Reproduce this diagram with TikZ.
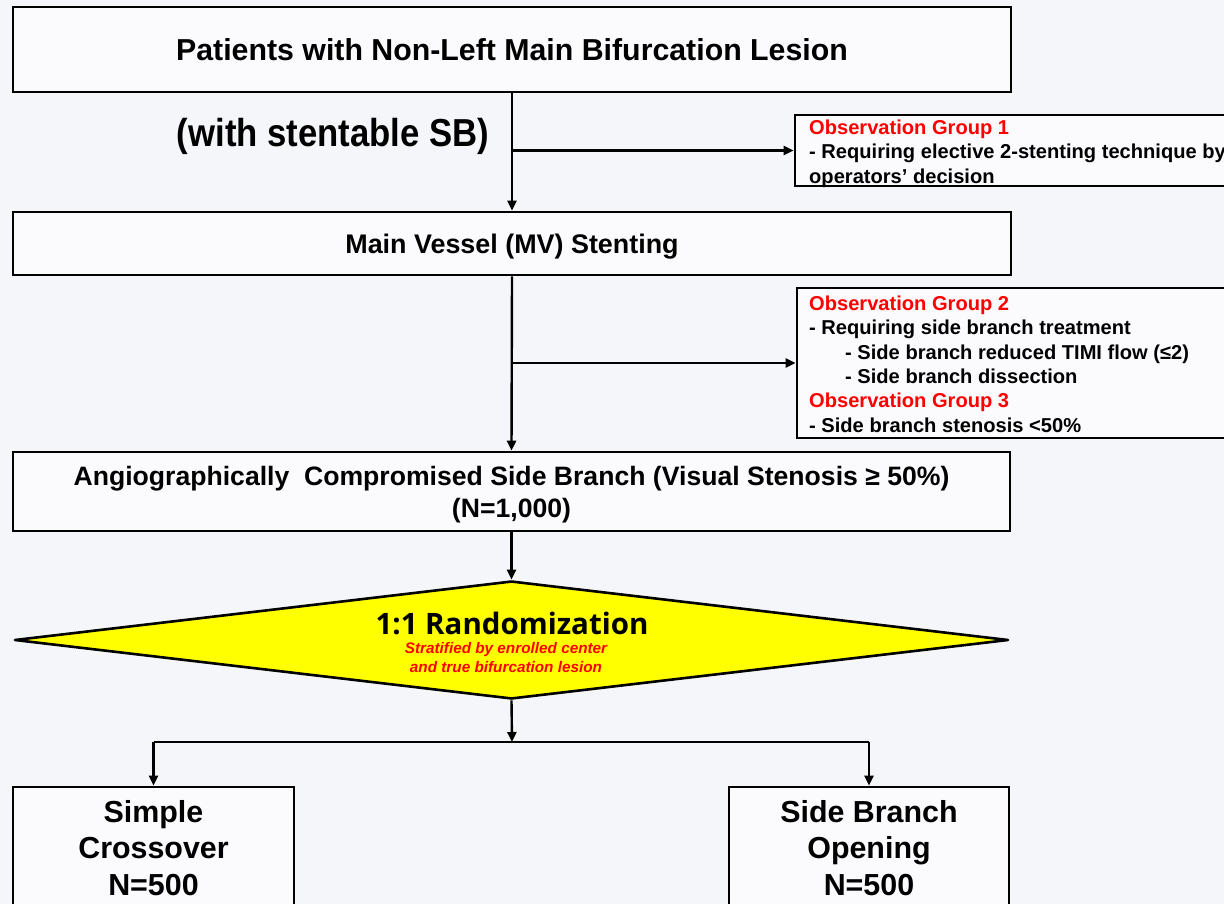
\documentclass[tikz,border=0pt]{standalone}
\usepackage{graphicx}
\usepackage{fontspec}
\setmainfont{Liberation Sans}
\newfontfamily\randfont{Open Sans}
\usetikzlibrary{arrows.meta,shapes.geometric,calc}
\definecolor{bgcol}{HTML}{F5F6F9}
\definecolor{boxfill}{HTML}{FBFBFD}
\definecolor{obsred}{HTML}{FF0000}
\definecolor{diayellow}{HTML}{FFFF00}
\begin{document}
\begin{tikzpicture}[x=1pt,y=-1pt,
  box/.style={draw=black,line width=2.6pt,fill=boxfill,inner sep=0pt},
  conn/.style={line width=2.4pt,-{Triangle[length=10pt,width=9pt]}},
  plain/.style={line width=2.4pt},
  obstext/.style={anchor=north west,align=left,inner sep=0pt,font=\bfseries\fontsize{20.1}{24.4}\selectfont},
  bigtext/.style={align=center,inner sep=0pt,font=\bfseries\fontsize{30.4}{36.5}\selectfont}]
\useasboundingbox (0,0) rectangle (1224,904);
\clip (0,0) rectangle (1224,904);
\fill[bgcol] (0,0) rectangle (1224,904);

% main boxes
\node[box,minimum width=998pt,minimum height=85pt,font=\bfseries\fontsize{30.3}{34}\selectfont] (p) at (512,49.5) {Patients with Non-Left Main Bifurcation Lesion};
\node[inner sep=0pt,font=\bfseries\fontsize{39}{42}\selectfont] (sb) at (333,136) {\scalebox{0.89}[1]{(with stentable SB)}};
\node[box,minimum width=998pt,minimum height=63pt,text depth=0pt,font=\bfseries\fontsize{26.9}{30}\selectfont] (mv) at (512,243.5) {Main Vessel (MV) Stenting};
\node[box,minimum width=997pt,minimum height=79pt,align=center,text depth=0pt,font=\bfseries\fontsize{26.6}{32}\selectfont] (ang) at (511.5,491.5) {Angiographically\ \ Compromised Side Branch (Visual Stenosis ≥ 50\%)\\(N=1,000)};

% observation boxes
\node[box,minimum width=450pt,minimum height=71pt] (obs1) at (1020,150.5) {};
\node[obstext] (obs1t) at (809,119.5) {\textcolor{obsred}{Observation Group 1}\\- Requiring elective 2-stenting technique by\\operators’ decision};
\node[box,minimum width=450pt,minimum height=150pt] (obs2) at (1022,363) {};
\node[obstext] (obs2t) at (809,295.5) {\textcolor{obsred}{Observation Group 2}\\- Requiring side branch treatment\\\hspace*{36pt}- Side branch reduced TIMI flow (≤2)\\\hspace*{36pt}- Side branch dissection\\\textcolor{obsred}{Observation Group 3}\\- Side branch stenosis <50\%};

% diamond
\node[diamond,draw=black,fill=diayellow,line width=2.6pt,line join=round,minimum width=994pt,minimum height=118pt,inner sep=0pt] (dia) at (511.5,640) {};
\node[inner sep=0pt,font=\randfont\bfseries\fontsize{29.5}{32}\selectfont] (rand) at (512,623) {1:1 Randomization};
\node[inner sep=0pt,align=center,text=obsred,font=\bfseries\itshape\fontsize{15.3}{19}\selectfont] (strat) at (506,657.5) {Stratified by enrolled center\\and true bifurcation lesion};

% arms
\node[box,minimum width=281pt,minimum height=150pt] (sc) at (153.5,862) {};
\node[bigtext] (sct) at (153.5,848) {Simple\\Crossover\\N=500};
\node[box,minimum width=280pt,minimum height=150pt] (sbo) at (869,862) {};
\node[bigtext] (sbot) at (869,848) {Side Branch\\Opening\\N=500};

% connectors
\draw[conn] (p.south) -- (mv.north);
\draw[conn] (p.south |- obs1.west) -- (obs1.west);
\draw[conn] (mv.south) -- (ang.north);
\draw[conn] (mv.south |- obs2.west) -- (obs2.west);
\draw[conn] (ang.south) -- (dia.north);
\coordinate (split) at (512,742);
\draw[conn] (dia.south) -- (split);
\draw[plain] (sc.north |- split) -- (sbo.north |- split);
\draw[conn] (sc.north |- split) -- (sc.north);
\draw[conn] (sbo.north |- split) -- (sbo.north);
\end{tikzpicture}
\end{document}
